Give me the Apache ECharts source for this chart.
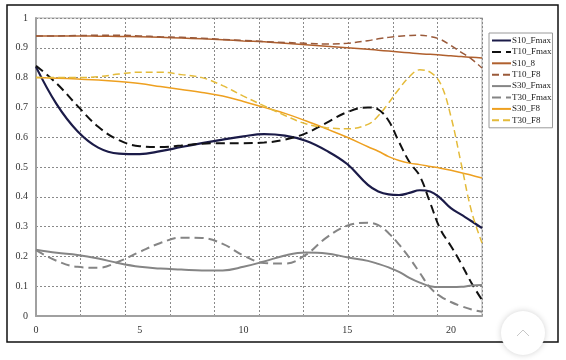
<!DOCTYPE html>
<html>
<head>
<meta charset="utf-8">
<script src="https://cdn.jsdelivr.net/npm/echarts@6/dist/echarts.min.js"></script>
<style>
  html, body { margin: 0; padding: 0; background: #ffffff; }
  #chart { width: 566px; height: 360px; }
</style>
</head>
<body>
<div id="chart"></div>
<script>
// x positions (shared by all series)
const xValues = [0, 1, 2, 3, 4, 5, 6, 7, 8, 9, 10, 11, 12, 13, 14, 15, 16, 16.5, 17, 17.5, 18, 18.5, 19, 19.5, 20, 20.5, 21, 21.5];

const S10_Fmax = [0.836, 0.71, 0.62, 0.565, 0.545, 0.543, 0.553, 0.567, 0.58, 0.592, 0.603, 0.61, 0.605, 0.588, 0.555, 0.51, 0.44, 0.418, 0.408, 0.406, 0.413, 0.422, 0.418, 0.395, 0.362, 0.34, 0.318, 0.295];
const T10_Fmax = [0.84, 0.78, 0.705, 0.635, 0.59, 0.57, 0.567, 0.572, 0.578, 0.58, 0.58, 0.582, 0.592, 0.613, 0.648, 0.684, 0.70, 0.693, 0.655, 0.584, 0.517, 0.47, 0.38, 0.29, 0.235, 0.175, 0.11, 0.054];
const S10_8    = [0.94, 0.94, 0.94, 0.939, 0.938, 0.937, 0.935, 0.933, 0.93, 0.927, 0.923, 0.92, 0.915, 0.91, 0.905, 0.90, 0.895, 0.892, 0.889, 0.886, 0.883, 0.88, 0.878, 0.876, 0.873, 0.871, 0.868, 0.866];
const T10_F8   = [0.94, 0.94, 0.941, 0.942, 0.942, 0.94, 0.937, 0.935, 0.932, 0.928, 0.925, 0.921, 0.918, 0.915, 0.913, 0.915, 0.924, 0.93, 0.935, 0.939, 0.941, 0.942, 0.938, 0.928, 0.908, 0.885, 0.862, 0.832];
const S30_Fmax = [0.222, 0.212, 0.205, 0.193, 0.177, 0.165, 0.159, 0.156, 0.153, 0.153, 0.165, 0.183, 0.203, 0.213, 0.21, 0.197, 0.185, 0.175, 0.163, 0.148, 0.128, 0.112, 0.10, 0.097, 0.097, 0.098, 0.102, 0.104];
const T30_Fmax = [0.221, 0.185, 0.165, 0.162, 0.183, 0.215, 0.245, 0.263, 0.262, 0.242, 0.203, 0.178, 0.176, 0.205, 0.263, 0.303, 0.313, 0.305, 0.278, 0.24, 0.195, 0.145, 0.095, 0.066, 0.047, 0.033, 0.022, 0.014];
const S30_F8   = [0.80, 0.798, 0.795, 0.792, 0.787, 0.78, 0.77, 0.76, 0.75, 0.738, 0.72, 0.70, 0.68, 0.655, 0.628, 0.60, 0.568, 0.553, 0.535, 0.522, 0.513, 0.508, 0.502, 0.496, 0.489, 0.481, 0.472, 0.463];
const T30_F8   = [0.80, 0.80, 0.80, 0.803, 0.812, 0.818, 0.818, 0.81, 0.80, 0.773, 0.738, 0.705, 0.673, 0.645, 0.632, 0.628, 0.643, 0.672, 0.715, 0.762, 0.803, 0.826, 0.818, 0.78, 0.67, 0.51, 0.35, 0.245];

const seriesNames = ['S10_Fmax', 'T10_Fmax', 'S10_8', 'T10_F8', 'S30_Fmax', 'T30_Fmax', 'S30_F8', 'T30_F8'];
const seriesValues = [S10_Fmax, T10_Fmax, S10_8, T10_F8, S30_Fmax, T30_Fmax, S30_F8, T30_F8];
const seriesStyles = [
  { color: '#1b1b48', width: 2.2, type: 'solid' },
  { color: '#111111', width: 2, type: [9, 5] },
  { color: '#b0602e', width: 1.5, type: 'solid' },
  { color: '#9a5a3a', width: 1.5, type: [7, 4] },
  { color: '#858585', width: 2, type: 'solid' },
  { color: '#858585', width: 2, type: [9, 5] },
  { color: '#eea020', width: 1.5, type: 'solid' },
  { color: '#e4bb3a', width: 1.5, type: [7, 4] }
];

const font = 'Liberation Serif';

const chart = echarts.init(document.getElementById('chart'), null, { renderer: 'canvas' });

const series = seriesNames.map((name, i) => ({
  name: name,
  type: 'line',
  xAxisIndex: 0,
  yAxisIndex: 0,
  smooth: 0.4,
  symbol: 'none',
  showSymbol: false,
  color: seriesStyles[i].color,
  lineStyle: { color: seriesStyles[i].color, width: seriesStyles[i].width, type: seriesStyles[i].type },
  data: xValues.map((x, j) => [x, seriesValues[i][j]])
}));

chart.setOption({
  animation: false,
  backgroundColor: '#ffffff',
  grid: { left: 36, top: 18, right: 84, bottom: 44, show: true, borderColor: '#c8c8c8', borderWidth: 1.5, backgroundColor: '#ffffff' },
  xAxis: [
    {
      type: 'value', min: 0, max: 21.5, interval: 5,
      axisLine: { show: true, lineStyle: { color: '#a0a0a0', width: 2 } },
      axisTick: { show: false },
      axisLabel: { showMaxLabel: false, color: '#333', fontSize: 10, fontFamily: font, margin: 9 },
      splitLine: { show: false }
    },
    {
      type: 'value', min: 0, max: 21.5, interval: 2.15, position: 'bottom',
      axisLine: { show: false }, axisTick: { show: false }, axisLabel: { show: false },
      splitLine: { show: true, lineStyle: { color: '#8a8a8a', type: [2, 2], width: 1 } }
    }
  ],
  yAxis: {
    type: 'value', min: 0, max: 1, interval: 0.1,
    axisLine: { show: true, lineStyle: { color: '#a0a0a0', width: 2 } },
    axisTick: { show: false },
    axisLabel: { color: '#333', fontSize: 10, fontFamily: font, margin: 8 },
    splitLine: { show: true, lineStyle: { color: '#8a8a8a', type: [2, 2], width: 1 } }
  },
  legend: {
    orient: 'vertical', left: 489, top: 33,
    itemWidth: 19, itemHeight: 9, itemGap: 2.4,
    padding: [3, 1, 3, 2],
    borderColor: '#9a9a9a', borderWidth: 1, backgroundColor: '#ffffff',
    itemStyle: { color: 'rgba(0,0,0,0)', borderWidth: 0, opacity: 0 },
    textStyle: { fontSize: 9, fontFamily: font, color: '#222', padding: [0, 0, 0, -4] },
    data: seriesNames
  },
  graphic: [
    { type: 'rect', shape: { x: 7, y: 5, width: 551, height: 337 }, style: { fill: 'none', stroke: '#111', lineWidth: 1.5 }, z: 100 },
    { type: 'circle', shape: { cx: 523, cy: 333, r: 22 }, style: { fill: '#ffffff', shadowBlur: 6, shadowColor: 'rgba(0,0,0,0.18)' }, z: 101 },
    { type: 'polyline', shape: { points: [[517, 336], [523, 330], [529, 336]] }, style: { stroke: '#c8c8c8', lineWidth: 1, fill: 'none' }, z: 102 }
  ],
  series: series
});
</script>
</body>
</html>
